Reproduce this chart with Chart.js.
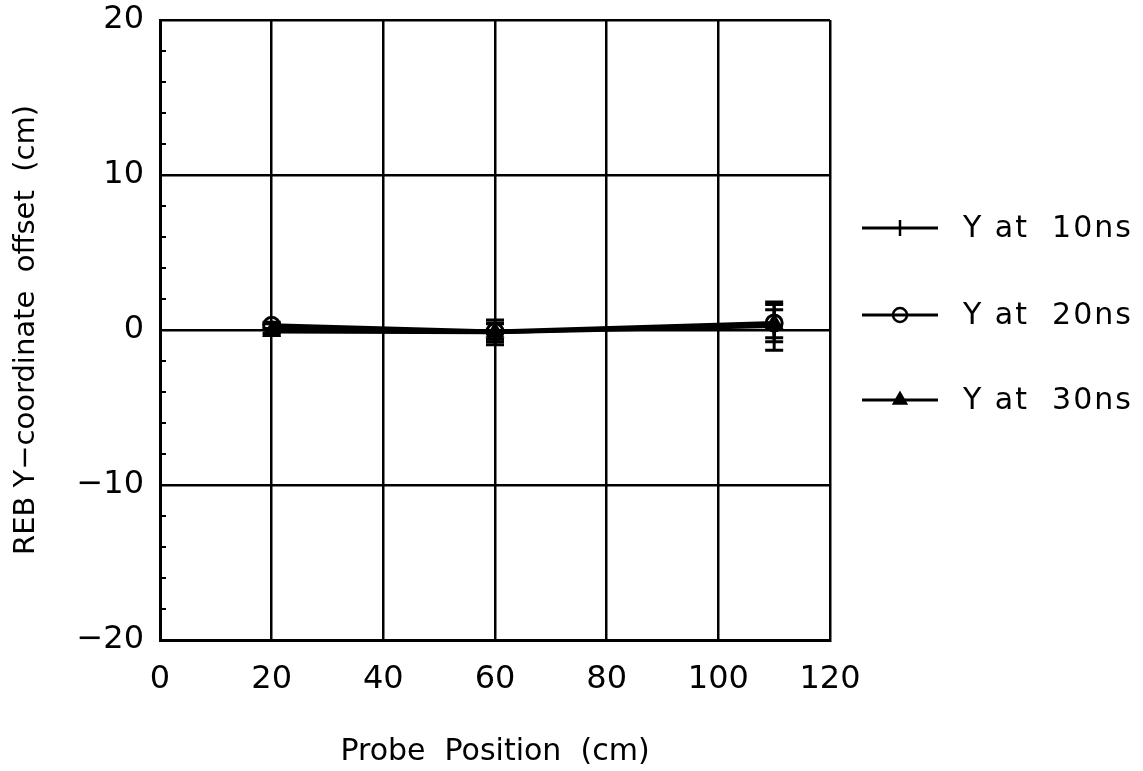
<!DOCTYPE html>
<html>
<head>
<meta charset="utf-8">
<script src="https://cdn.jsdelivr.net/npm/chart.js@4/dist/chart.umd.min.js"></script>
<style>
    html, body { margin: 0; padding: 0; background: #fff; }
    canvas { display: block; }
</style>
</head>
<body>
<canvas id="chart" width="1143" height="771"></canvas>
<script>
// ── data ─────────────────────────────────────────────────────────────────
const positions = [20, 60, 110];

const y10 = [0.1, -0.15, 0.25];
const y20 = [0.3, -0.1, 0.45];
const y30 = [-0.1, -0.15, 0.4];

const err10 = [0.3, 0.8, 1.55];
const err20 = [0.2, 0.5, 1.2];
const err30 = [0.2, 0.6, 0.9];

const seriesLabels = ['Y at  10ns', 'Y at  20ns', 'Y at  30ns'];

const xTicks = [0, 20, 40, 60, 80, 100, 120];
const yTicks = [-20, -10, 0, 10, 20];
const yMinorTicks = [-18, -16, -14, -12, -8, -6, -4, -2, 2, 4, 6, 8, 12, 14, 16, 18];

const FONT = '"DejaVu Sans", sans-serif';

function toPoints(ys) {
    return positions.map((x, i) => ({ x: x, y: ys[i] }));
}

// vertical error bars with caps, drawn through the scales
const errorBars = {
    id: 'errorBars',
    afterDatasetsDraw(chart) {
        const ctx = chart.ctx;
        const xs = chart.scales.x, ys = chart.scales.y;
        ctx.save();
        ctx.strokeStyle = '#000';
        ctx.lineWidth = 3;
        chart.data.datasets.forEach(ds => {
            (ds.errors || []).forEach((e, i) => {
                const px = xs.getPixelForValue(ds.data[i].x);
                const top = ys.getPixelForValue(ds.data[i].y + e);
                const bot = ys.getPixelForValue(ds.data[i].y - e);
                ctx.beginPath();
                ctx.moveTo(px, top); ctx.lineTo(px, bot);
                ctx.moveTo(px - 9, top); ctx.lineTo(px + 9, top);
                ctx.moveTo(px - 9, bot); ctx.lineTo(px + 9, bot);
                ctx.stroke();
            });
        });
        ctx.restore();
    }
};

// small inward ticks on the left axis
const minorTicks = {
    id: 'minorTicks',
    afterDraw(chart) {
        const ctx = chart.ctx;
        const left = chart.chartArea.left;
        ctx.save();
        ctx.strokeStyle = '#000';
        ctx.lineWidth = 2;
        ctx.beginPath();
        yMinorTicks.forEach(v => {
            const py = chart.scales.y.getPixelForValue(v);
            ctx.moveTo(left, py);
            ctx.lineTo(left + 6, py);
        });
        ctx.stroke();
        ctx.restore();
    }
};

// legend on the right: line with the marker in the middle, then the label
const sideLegend = {
    id: 'sideLegend',
    afterDraw(chart) {
        const ctx = chart.ctx;
        const rows = [228, 315, 400];
        ctx.save();
        chart.data.datasets.forEach((ds, i) => {
            const y = rows[i];
            ctx.strokeStyle = '#000';
            ctx.lineWidth = 3;
            ctx.beginPath();
            ctx.moveTo(862, y);
            ctx.lineTo(938, y);
            ctx.stroke();
            ctx.fillStyle = ds.pointBackgroundColor;
            ctx.strokeStyle = '#000';
            ctx.lineWidth = 2.5;
            if (ds.pointStyle === 'line') {
                ctx.beginPath();
                ctx.moveTo(900, y - 8);
                ctx.lineTo(900, y + 8);
                ctx.stroke();
            } else {
                Chart.helpers.drawPoint(ctx, {
                    pointStyle: ds.pointStyle,
                    radius: 7,
                    borderWidth: 2.5
                }, 900, y);
            }
            ctx.fillStyle = '#000';
            ctx.font = '30px ' + FONT;
            ctx.letterSpacing = '2px';
            ctx.textBaseline = 'middle';
            ctx.textAlign = 'left';
            ctx.fillText(ds.label, 963, y + 1);
        });
        ctx.restore();
    }
};

const minusSign = v => String(v).replace('-', '\u2212');

new Chart(document.getElementById('chart'), {
    type: 'scatter',
    data: {
        datasets: [
            {
                label: seriesLabels[0],
                data: toPoints(y10),
                errors: err10,
                showLine: true,
                borderColor: '#000',
                borderWidth: 4,
                pointStyle: 'line',
                rotation: 90,
                pointRadius: 8,
                pointBorderWidth: 3,
                pointBorderColor: '#000',
                pointBackgroundColor: '#000'
            },
            {
                label: seriesLabels[1],
                data: toPoints(y20),
                errors: err20,
                showLine: true,
                borderColor: '#000',
                borderWidth: 4,
                pointStyle: 'circle',
                pointRadius: 8,
                pointBorderWidth: 3,
                pointBorderColor: '#000',
                pointBackgroundColor: 'rgba(0,0,0,0)'
            },
            {
                label: seriesLabels[2],
                data: toPoints(y30),
                errors: err30,
                showLine: true,
                borderColor: '#000',
                borderWidth: 4,
                pointStyle: 'triangle',
                pointRadius: 9,
                pointBorderWidth: 2,
                pointBorderColor: '#000',
                pointBackgroundColor: '#000'
            }
        ]
    },
    options: {
        responsive: false,
        animation: false,
        devicePixelRatio: 1,
        layout: { padding: { left: 0, right: 313, top: 20, bottom: 0 } },
        plugins: {
            legend: { display: false },
            tooltip: { enabled: false }
        },
        scales: {
            x: {
                type: 'linear',
                min: xTicks[0],
                max: xTicks[xTicks.length - 1],
                afterBuildTicks: s => { s.ticks = xTicks.map(v => ({ value: v })); },
                afterFit: s => { s.height = 131; s.paddingLeft = 0; s.paddingRight = 0; },
                grid: { color: '#000', lineWidth: 2.5, drawTicks: false },
                border: { color: '#000', width: 3 },
                ticks: {
                    color: '#000',
                    font: { family: FONT, size: 32 },
                    padding: 20,
                    maxRotation: 0,
                    callback: minusSign
                },
                title: {
                    display: true,
                    text: 'Probe  Position  (cm)',
                    color: '#000',
                    font: { family: FONT, size: 30 },
                    padding: { top: 0, bottom: 1 }
                }
            },
            y: {
                type: 'linear',
                min: yTicks[0],
                max: yTicks[yTicks.length - 1],
                afterBuildTicks: s => { s.ticks = yTicks.map(v => ({ value: v })); },
                afterFit: s => { s.width = 160; s.paddingTop = 0; s.paddingBottom = 0; },
                grid: { color: '#000', lineWidth: 2.5, drawTicks: false },
                border: { color: '#000', width: 3 },
                ticks: {
                    color: '#000',
                    font: { family: FONT, size: 32 },
                    padding: 16,
                    callback: minusSign
                },
                title: {
                    display: true,
                    text: 'REB Y\u2212coordinate  offset  (cm)',
                    color: '#000',
                    font: { family: FONT, size: 29 },
                    padding: { top: 9, bottom: 0 }
                }
            }
        }
    },
    plugins: [errorBars, minorTicks, sideLegend]
});
</script>
</body>
</html>
